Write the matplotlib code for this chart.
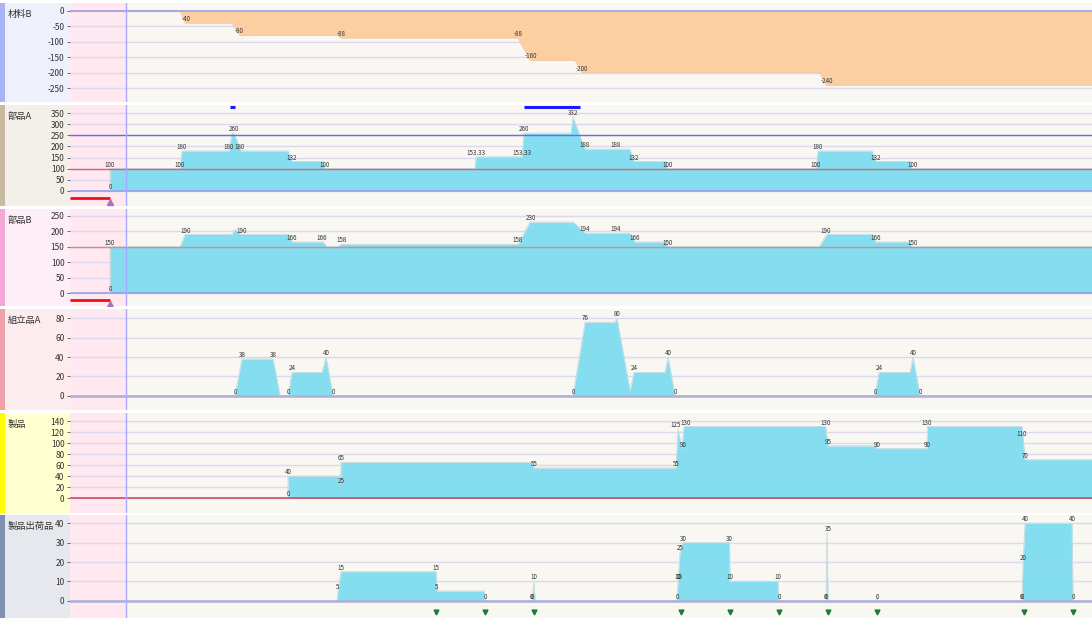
import matplotlib
matplotlib.use('Agg')
import matplotlib.pyplot as plt
import matplotlib.transforms as mtrans
from matplotlib.patches import Rectangle

plt.rcParams['font.family'] = ['Noto Sans CJK JP', 'DejaVu Sans']
plt.rcParams['axes.unicode_minus'] = False

# time axis in days (0 = left edge of the plot area)
t_end = 20.857
t_now = 1.143

# 材料B
mb_t = [0, 2.245, 2.347, 3.306, 3.469, 5.469, 5.531, 9.143, 9.388, 10.306, 10.449, 15.306, 15.429, t_end]
mb_v = [0, 0, -40, -40, -80, -80, -88, -88, -160, -160, -200, -200, -240, -240]
mb_lt = [2.367, 3.45, 5.531, 9.143, 9.408, 10.449, 15.449]
mb_lv = [-40, -80, -88, -88, -160, -200, -240]

# 部品A
pa_t = [0, 0.816, 0.816, 2.245, 2.286, 3.245, 3.306, 3.347, 3.49, 4.449, 4.531, 5.163, 5.204,
        8.265, 8.286, 9.224, 9.265, 10.224, 10.265, 10.51, 11.429, 11.51, 12.163, 12.184,
        15.224, 15.265, 16.367, 16.449, 17.143, 17.184, t_end]
pa_v = [0, 0, 100, 100, 180, 180, 260, 260, 180, 180, 132, 132, 100,
        100, 153.33, 153.33, 260, 260, 332, 188, 188, 132, 132, 100,
        100, 180, 180, 132, 132, 100, 100]
pa_lt = [0.816, 0.816, 2.245, 2.286, 3.245, 3.347, 3.469, 4.531, 5.204, 8.286, 9.224, 9.265,
         10.265, 10.51, 11.143, 11.51, 12.184, 15.224, 15.265, 16.449, 17.184]
pa_lv = [0, 100, 100, 180, 180, 260, 180, 132, 100, 153.33, 153.33, 260,
         332, 188, 188, 132, 100, 100, 180, 132, 100]
pa_safety = 100
pa_max = 250
pa_over_start = [3.265, 9.265]
pa_over_end = [3.367, 10.408]

# 部品B
pb_t = [0, 0.816, 0.816, 2.245, 2.347, 3.306, 3.367, 3.49, 4.449, 4.531, 5.163, 5.245, 5.469, 5.531,
        9.143, 9.388, 10.265, 10.306, 10.51, 11.429, 11.531, 12.163, 12.204,
        15.286, 15.449, 16.367, 16.449, 17.143, 17.184, t_end]
pb_v = [0, 0, 150, 150, 190, 190, 206, 190, 190, 166, 166, 150, 150, 158,
        158, 230, 230, 225, 194, 194, 166, 166, 150,
        150, 190, 190, 166, 166, 150, 150]
pb_lt = [0.816, 0.816, 2.367, 3.51, 4.531, 5.143, 5.531, 9.143, 9.408, 10.51, 11.143, 11.531,
         12.204, 15.429, 16.449, 17.184]
pb_lv = [0, 150, 190, 190, 166, 166, 158, 158, 230, 194, 194, 166, 150, 190, 166, 150]
pb_safety = 150

# 組立品A
ka_t = [0, 3.367, 3.51, 4.143, 4.286, 4.449, 4.531, 5.143, 5.224, 5.367,
        10.265, 10.51, 11.122, 11.163, 11.429, 11.51, 12.143, 12.204, 12.347,
        16.429, 16.51, 17.143, 17.204, 17.347, t_end]
ka_v = [0, 0, 38, 38, 0, 0, 24, 24, 40, 0,
        0, 76, 76, 80, 5, 24, 24, 40, 0,
        0, 24, 24, 40, 0, 0]
ka_lt = [3.367, 3.51, 4.143, 4.449, 4.531, 5.224, 5.367, 10.265, 10.51, 11.163, 11.51,
         12.204, 12.347, 16.429, 16.51, 17.204, 17.347]
ka_lv = [0, 38, 38, 0, 24, 40, 0, 0, 76, 80, 24, 40, 0, 0, 24, 40, 0]

# 製品
sp_t = [0, 4.449, 4.449, 5.51, 5.52, 5.531, 9.429, 9.469, 12.367, 12.408, 12.49, 12.531,
        15.42, 15.469, 16.449, 16.469, 17.49, 17.5, 19.429, 19.449, 19.49, t_end]
sp_v = [0, 0, 40, 40, 25, 65, 65, 55, 55, 125, 90, 130,
        130, 95, 95, 90, 90, 130, 130, 110, 70, 70]
sp_lt = [4.449, 4.449, 5.531, 5.531, 9.469, 12.367, 12.36, 12.57, 12.51, 15.429, 15.469,
         16.469, 17.49, 17.49, 19.429, 19.49]
sp_lv = [0, 40, 25, 65, 55, 55, 125, 130, 90, 130, 95, 90, 90, 130, 110, 70]

# 製品出荷品
sh_t = [0, 5.449, 5.469, 5.531, 7.469, 7.49, 8.449, 8.469, 9.429, 9.469, 9.49,
        12.388, 12.408, 12.449, 12.51, 13.459, 13.469, 14.449, 14.469,
        15.429, 15.449, 15.469, 16.459, 16.469, 16.479, 19.429, 19.449, 19.49, 20.449, 20.469, t_end]
sh_v = [0, 0, 5, 15, 15, 5, 5, 0, 0, 10, 0,
        0, 10, 25, 30, 30, 10, 10, 0,
        0, 35, 0, 0, 3, 0, 0, 20, 40, 40, 0, 0]
sh_lt = [5.469, 5.531, 7.469, 7.49, 8.469, 9.42, 9.44, 9.469, 12.388, 12.4, 12.43, 12.449, 12.51,
         13.459, 13.469, 14.449, 14.469, 15.42, 15.44, 15.469, 16.469, 19.42, 19.44, 19.449, 19.49,
         20.449, 20.469]
sh_lv = [5, 15, 15, 5, 0, 0, 0, 10, 0, 10, 10, 25, 30,
         30, 10, 10, 0, 0, 0, 35, 0, 0, 0, 20, 40,
         40, 0]
ship_days = [7.469, 8.469, 9.469, 12.469, 13.469, 14.469, 15.469, 16.469, 19.469, 20.469]

panels = [
    ('材料B', mb_t, mb_v, mb_lt, mb_lv, [0, -50, -100, -150, -200, -250], (-294.5, 24.8)),
    ('部品A', pa_t, pa_v, pa_lt, pa_lv, list(range(0, 351, 50)), (-69.2, 387.6)),
    ('部品B', pb_t, pb_v, pb_lt, pb_lv, list(range(0, 251, 50)), (-41, 272.5)),
    ('組立品A', ka_t, ka_v, ka_lt, ka_lv, list(range(0, 81, 20)), (-14.8, 89.7)),
    ('製品', sp_t, sp_v, sp_lt, sp_lv, list(range(0, 141, 20)), (-26.6, 154.5)),
    ('製品出荷品', sh_t, sh_v, sh_lt, sh_lv, list(range(0, 41, 10)), (-8.95, 44.3)),
]
rows_px = [(3, 102), (105, 206), (209, 306), (309, 410), (413, 513), (515, 618)]
strip_cols = ['#a8b4f4', '#c9b9a0', '#f4a8d8', '#f0a0a8', '#ffff00', '#8090b0']
label_bg = ['#eef0fc', '#f3f0ea', '#fdeef8', '#fcecee', '#ffffd0', '#e6e8ee']

W, H = 1092, 618
fig = plt.figure(figsize=(W / 100, H / 100), dpi=100)
fig.patch.set_facecolor('white')

bg = fig.add_axes([0, 0, 1, 1], zorder=-5)
bg.set_xlim(0, W)
bg.set_ylim(H, 0)
bg.axis('off')

axes = []
for i, (name, t, v, lt, lv, ticks, ylim) in enumerate(panels):
    top, bot = rows_px[i]
    bg.add_patch(Rectangle((0, top), 5, bot - top, color=strip_cols[i], lw=0))
    bg.add_patch(Rectangle((5, top), 65, bot - top, color=label_bg[i], lw=0))
    fig.text(8 / W, 1 - (top + 11) / H, name, fontsize=6.7, color='#333333', va='center', ha='left')

    ax = fig.add_axes([70 / W, 1 - bot / H, (W - 70) / W, (bot - top) / H])
    ax.set_facecolor('#f8f7f1')
    ax.set_xlim(0, t_end)
    ax.set_ylim(*ylim)
    ax.set_xticks([])
    ax.set_yticks(ticks)
    ax.tick_params(axis='y', length=2.5, width=0.6, pad=1.5, labelsize=6.0,
                   colors='#555555', labelcolor='#333333')
    for s in ax.spines.values():
        s.set_visible(False)
    for yv in ticks:
        ax.axhline(yv, color='#ddd8ee', lw=1, zorder=1)

    ax.axvspan(0, t_now, color='#ffe8ef', lw=0, zorder=0.5)
    ax.axvline(t_now, color='#a8a8ff', lw=1, zorder=5)

    if i == 0:
        ax.fill_between(t, v, 0, color='#fccfa2', lw=0, zorder=2)
        ax.plot(t, v, color='#f0c8a8', lw=0.6, zorder=2.5)
    else:
        ax.fill_between(t, v, 0, color='#7fdcf0', alpha=0.95, lw=0, zorder=2)
        ax.plot(t, v, color='#c8dde2', lw=0.7, zorder=2.5)

    zc = '#d0405a' if i == 4 else ('#b0b0d8' if i >= 3 else '#9a9ae8')
    ax.axhline(0, color=zc, lw=1.8 if i in (3, 5) else 1.1, zorder=3)

    for x, y in zip(lt, lv):
        ax.text(x, y, f'{y:g}', fontsize=4.5, ha='center', va='bottom', color='#333333', zorder=6)
    axes.append(ax)

# 部品A: safety / max lines, overflow bars, shortage bar
ax = axes[1]
ax.axhline(pa_safety, color='#e06070', lw=1, zorder=3)
ax.axhline(pa_max, color='#6a6ae8', lw=1, zorder=3)
tr = mtrans.blended_transform_factory(ax.transData, ax.transAxes)
for a, b in zip(pa_over_start, pa_over_end):
    ax.plot([a, b], [0.983, 0.983], color='#1a1aff', lw=2.2, transform=tr, solid_capstyle='butt', zorder=6)
ax.plot([0, 0.816], [0.082, 0.082], color='#ee1111', lw=2, transform=tr, solid_capstyle='butt', zorder=6)
ax.plot([0.816], [0.04], marker='^', color='#b070c0', ms=4, transform=tr, zorder=6)

# 部品B
ax = axes[2]
ax.axhline(pb_safety, color='#d88890', lw=1, zorder=3)
tr = mtrans.blended_transform_factory(ax.transData, ax.transAxes)
ax.plot([0, 0.816], [0.058, 0.058], color='#ee1111', lw=2, transform=tr, solid_capstyle='butt', zorder=6)
ax.plot([0.816], [0.02], marker='^', color='#b070c0', ms=4, transform=tr, zorder=6, clip_on=True)

# shipping markers
ax = axes[5]
tr = mtrans.blended_transform_factory(ax.transData, ax.transAxes)
ax.plot(ship_days, [0.061] * len(ship_days), 'v', color='#1f7a3a', ms=3.5, transform=tr, zorder=6)

fig.savefig('out.png', dpi=100)
